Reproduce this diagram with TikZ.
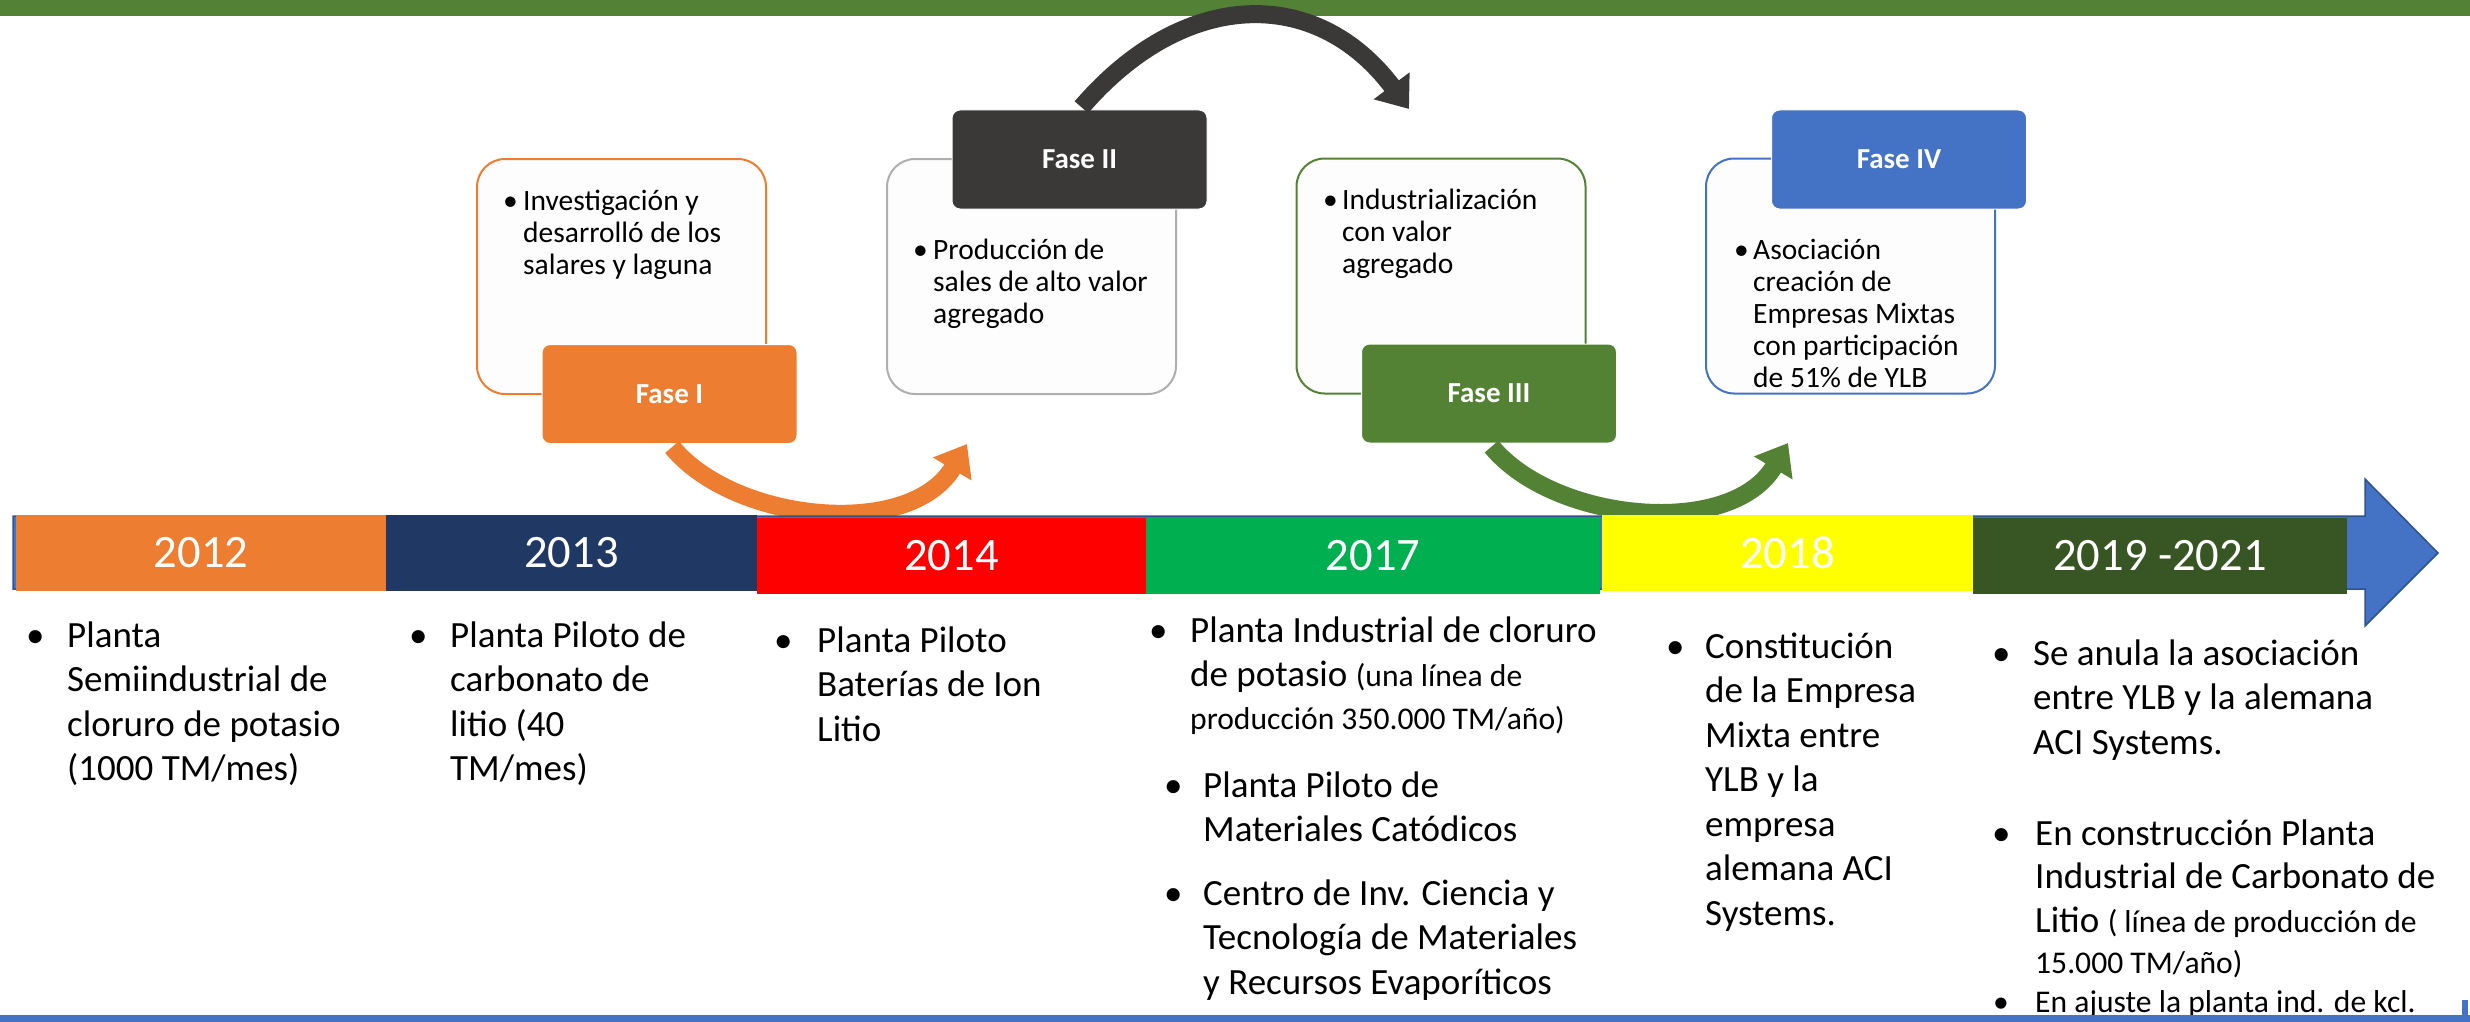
\documentclass[tikz,border=0pt]{standalone}
\usepackage{fontspec}
\setmainfont{Carlito}
\usetikzlibrary{arrows.meta}
\definecolor{topgreen}{HTML}{538135}
\definecolor{tlblue}{HTML}{4472C4}
\definecolor{tlborder}{HTML}{2F528F}
\definecolor{c2012}{HTML}{ED7D31}
\definecolor{c2013}{HTML}{203864}
\definecolor{c2014}{HTML}{FF0000}
\definecolor{c2017}{HTML}{00B050}
\definecolor{c2018}{HTML}{FFFF00}
\definecolor{c2019}{HTML}{375623}
\definecolor{faseorange}{HTML}{ED7D31}
\definecolor{fasedark}{HTML}{3B3838}
\definecolor{fasegreen}{HTML}{548235}
\definecolor{faseblue}{HTML}{4472C4}
\definecolor{outgray}{HTML}{AFAFAF}
\definecolor{boxfill}{HTML}{FDFDFD}
\newcommand\bitem[3]{\makebox[#1][l]{\textbullet}\parbox[t]{#2}{\raggedright #3}}
\newcommand\smtxt[1]{{\fontsize{31.6}{44.5}\selectfont #1}}
\begin{document}
\begin{tikzpicture}[x=1pt,y=-1pt,
  yearbox/.style={inner sep=0, minimum height=76pt, text=white, font=\fontsize{46.5}{50}\selectfont},
  fasebox/.style={inner sep=0, rounded corners=8pt, draw=white, line width=1pt, minimum width=255pt, minimum height=99pt, text=white, font=\bfseries\fontsize{29}{32}\selectfont},
  outbox/.style={inner sep=0, rounded corners=28pt, fill=boxfill, line width=2pt, minimum width=289pt, minimum height=235pt},
  toptext/.style={anchor=base west, inner sep=0, font=\fontsize{29.5}{32}\selectfont, text=black},
  bottext/.style={anchor=base west, inner sep=0, font=\fontsize{37}{44.5}\selectfont, text=black},
  curvearrow/.style={line width=18pt, -{Triangle[length=29pt,width=43pt]}},
]
\useasboundingbox (0,0) rectangle (2470,1022);
\fill[white] (0,0) rectangle (2470,1022);
% top bar
\fill[topgreen] (0,0) rectangle (2470,16);

% phase boxes
\node[outbox, draw=faseorange] (f1out) at (621.5,276.5) {};
\node[fasebox, fill=faseorange] (f1) at (669.5,394) {Fase I};
\node[toptext] (f1txt) at (503,210) {\bitem{20pt}{300pt}{Investigación y\\desarrolló de los\\salares y laguna}};

\node[outbox, draw=outgray] (f2out) at (1031.5,276.5) {};
\node[fasebox, fill=fasedark] (f2) at (1079.5,159.5) {Fase II};
\node[toptext] (f2txt) at (913,259) {\bitem{20pt}{300pt}{Producción de\\sales de alto valor\\agregado}};

\node[outbox, draw=fasegreen] (f3out) at (1441,276) {};
\node[fasebox, fill=fasegreen] (f3) at (1489,393.5) {Fase III};
\node[toptext] (f3txt) at (1323,209) {\bitem{19pt}{300pt}{Industrialización\\con valor\\agregado}};

\node[outbox, draw=faseblue] (f4out) at (1850.5,276) {};
\node[fasebox, fill=faseblue] (f4) at (1899,159.5) {Fase IV};
\node[toptext] (f4txt) at (1734,259) {\bitem{19pt}{300pt}{Asociación\\creación de\\Empresas Mixtas\\con participación\\de 51\% de YLB}};

% curved arrows
\coordinate (a1e) at (967,444);
\coordinate (a2e) at (1409,109);
\coordinate (a3e) at (1788,443);
\draw[curvearrow, faseorange, shorten <=4pt] (f1.south) .. controls +(65,79) and +(-57,96) .. (a1e);
\draw[curvearrow, fasedark, shorten <=3pt] (f2.north) .. controls +(104,-121) and +(-93,-124) .. (a2e);
\draw[curvearrow, fasegreen, shorten <=4pt] (f3.south) .. controls +(65,79) and +(-57,96) .. (a3e);

% timeline
\draw[fill=tlblue, draw=tlborder, line width=1.5pt] (13,516) -- (2365,516) -- (2365,479) -- (2438,553) -- (2365,626) -- (2365,589) -- (13,589) -- cycle;
\node[yearbox, fill=c2012, minimum width=370pt] (y2012) at (201,553) {2012};
\node[yearbox, fill=c2013, minimum width=371pt] (y2013) at (571.5,553) {2013};
\node[yearbox, fill=c2014, minimum width=389pt] (y2014) at (951.5,556) {2014};
\node[yearbox, fill=c2017, minimum width=454pt] (y2017) at (1373,555.5) {2017};
\node[yearbox, fill=c2018, minimum width=371pt] (y2018) at (1787.5,553) {2018};
\node[yearbox, fill=c2019, minimum width=374pt] (y2019) at (2160,555.5) {2019 -2021};

% bottom texts
\node[bottext] (t1) at (26,647) {\bitem{41pt}{500pt}{Planta\\Semiindustrial de\\cloruro de potasio\\(1000 TM/mes)}};
\node[bottext] (t2) at (409,647) {\bitem{41pt}{500pt}{Planta Piloto de\\carbonato de\\litio (40\\TM/mes)}};
\node[bottext] (t3) at (774,652) {\bitem{43pt}{500pt}{Planta Piloto\\Baterías de Ion\\Litio}};
\node[bottext] (t4a) at (1149,642) {\bitem{41pt}{500pt}{Planta Industrial de cloruro\\de potasio \smtxt{(una línea de}\\[-1.5pt]\smtxt{producción 350.000 TM/año)}}};
\node[bottext] (t4b) at (1164,797) {\bitem{39pt}{500pt}{Planta Piloto de\\Materiales Catódicos}};
\node[bottext] (t4c) at (1164,905) {\bitem{39pt}{500pt}{Centro de Inv. Ciencia y\\Tecnología de Materiales\\y Recursos Evaporíticos}};
\node[bottext] (t5) at (1666,658) {\bitem{39pt}{500pt}{Constitución\\de la Empresa\\Mixta entre\\YLB y la\\empresa\\alemana ACI\\Systems.}};
\node[bottext] (t6a) at (1992,665) {\bitem{41pt}{500pt}{Se anula la asociación\\entre YLB y la alemana\\ACI Systems.}};
\node[bottext] (t6b) at (1992,845) {\bitem{43pt}{500pt}{En construcción Planta\\[-1.5pt]Industrial de Carbonato de\\Litio \smtxt{( línea de producción de}\\[-4pt]\smtxt{15.000 TM/año)}}};
\node[bottext, font=\fontsize{31.6}{40}\selectfont] (t6c) at (1993,1012) {\bitem{42pt}{500pt}{En ajuste la planta ind. de kcl.}};

% bottom bar
\fill[tlblue] (0,1015) rectangle (2470,1022);
\fill[tlblue] (2462,1000) rectangle (2468,1016);
\end{tikzpicture}
\end{document}
